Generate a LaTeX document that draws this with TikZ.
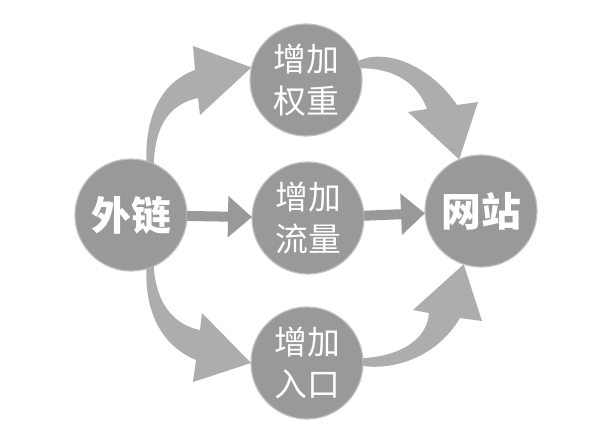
\documentclass[tikz,border=0pt]{standalone}
\usepackage{fontspec}
\newfontfamily\cjk{Noto Sans CJK SC}
\usetikzlibrary{arrows.meta}
\tikzset{
	ball/.style={circle, fill=black!40, draw=black!24, line width=1pt, minimum size=3.36cm, inner sep=0pt, outer sep=0pt, text=white, align=center, font=\cjk\fontsize{28}{36}\selectfont},
	bigball/.style={ball, font=\cjk\bfseries\fontsize{34}{40}\selectfont},
	flowarrow/.style={draw=black!40, line width=0.3cm, -{Triangle[length=0.72cm,width=1.2cm]}},
	bendarrow/.style={fill=black!32}
}

\begin{document}
\begin{tikzpicture}[x=0.03cm, y=-0.03cm]
	\useasboundingbox (0,0) rectangle (593,447);
	\node[bigball] (lnk) at (131,215) {外链};
	\node[ball] (up) at (306,80) {增加\\权重};
	\node[ball] (mid) at (308,218) {增加\\流量};
	\node[ball] (dn) at (307,363) {增加\\入口};
	\node[bigball] (web) at (481,211) {网站};
	\draw[flowarrow] (lnk) -- (mid);
	\draw[flowarrow] (mid) -- (web);
	\fill[bendarrow] (lnk.74) .. controls (145,115) and (162,82) .. (195,70)
		-- (193,46) -- (up.167) -- (200,115) -- (198,98)
		.. controls (170,104) and (155,125) .. (lnk.66) -- cycle;
	\fill[bendarrow] (up.20) .. controls (385,48) and (430,65) .. (457,105)
		-- (478,102) -- (web.113) -- (408,112) -- (427,109)
		.. controls (418,84) and (395,68) .. (up.12) -- cycle;
	\fill[bendarrow] (lnk.-74) .. controls (145,310) and (160,345) .. (196,360)
		-- (193,382) -- (dn.180) -- (202,313) -- (200,330)
		.. controls (175,325) and (156,305) .. (lnk.-66) -- cycle;
	\fill[bendarrow] (dn.-3) .. controls (390,370) and (435,360) .. (460,318)
		-- (482,321) -- (web.-108) -- (413,310) -- (429,313)
		.. controls (427,340) and (400,356) .. (dn.5) -- cycle;
\end{tikzpicture}
\end{document}
